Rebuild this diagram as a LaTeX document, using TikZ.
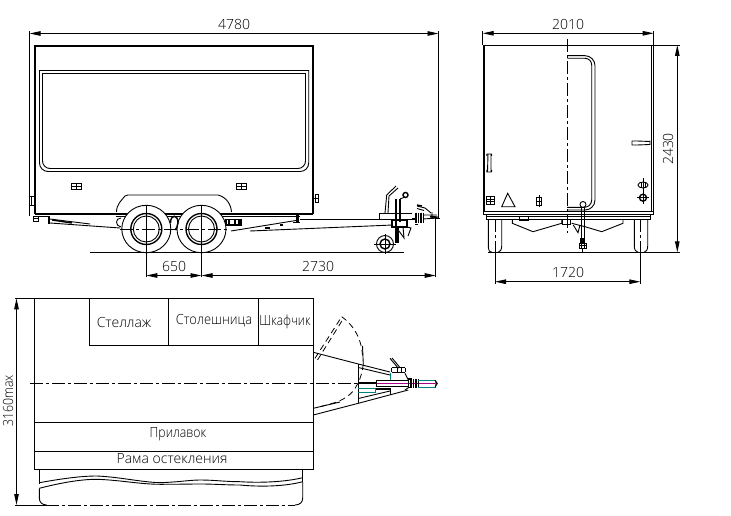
\documentclass[tikz,border=0pt]{standalone}
\usepackage{fontspec}
\setmainfont{Open Sans Light}
\usetikzlibrary{arrows.meta}
\definecolor{cadteal}{RGB}{0,128,128}
\definecolor{cadmag}{RGB}{170,0,140}
\tikzset{
 every path/.style={line width=0.9pt,line join=miter},
 heavy/.style={line width=2pt},
 mid/.style={line width=1.4pt},
 block/.style={line width=3pt},
 ext/.style={line width=0.9pt},
 dimboth/.style={line width=0.9pt,{Triangle[length=11pt,width=4.5pt]}-{Triangle[length=11pt,width=4.5pt]}},
 axis/.style={line width=0.8pt,dash pattern=on 13pt off 3pt on 3pt off 3pt},
 dashy/.style={line width=0.8pt,dash pattern=on 6pt off 4pt},
 lab/.style={inner sep=0pt,font=\fontsize{14}{14}\selectfont,text=black},
}
\newcommand{\latchbox}[2]{\draw (#1-5,#2-3) rectangle (#1+5,#2+3) (#1-5,#2)--(#1+5,#2) (#1,#2-3)--(#1,#2+3);}
\begin{document}
\begin{tikzpicture}[x=1pt,y=-1pt]
\useasboundingbox (0,0) rectangle (731,516);
\fill[white] (0,0) rectangle (731,516);

% ---- side view body
\draw[heavy] (35,214) -- (35,46) -- (313,46) -- (313,214);
\draw[heavy] (35,213.5) -- (313,213.5);
\draw (35,216.5)--(48,216.5);
\draw (39.5,70.5) -- (308.7,70.5) -- (308.7,163) arc[start angle=0,end angle=90,radius=8.5] -- (48,171.5) arc[start angle=90,end angle=180,radius=8.5] -- cycle;
\draw (42.5,73.5) -- (305.5,73.5) -- (305.5,161) arc[start angle=0,end angle=90,radius=7.5] -- (50,168.5) arc[start angle=90,end angle=180,radius=7.5] -- cycle;
\latchbox{76}{186}
\latchbox{241}{186}
\draw (29.5,196) rectangle (34,205) (31.5,196)--(31.5,205);
\draw (313,198)--(318,198) (315,194) rectangle (318,202);
\draw (33,216) rectangle (38,221) (33,218.5)--(38,218.5);
\draw (116.5,212) .. controls (116.5,204) and (122,200) .. (125,196) -- (128,195) -- (218,195) .. controls (226,197) and (231,204) .. (231.5,212);
\draw (116,216.5)--(300,216.5);

% wheels
\foreach \c/\nm in {146.3/wa,201.5/wb}{
 \draw[fill=white] (\c,229) ellipse[x radius=24.5,y radius=23.7];
 \draw[mid] (\c,229) circle (15.5pt);
 \draw (\c,229) circle (13pt);
}
\draw[axis] (120,229) -- (228,229);
\draw (121,218) .. controls (115,218) and (115,226) .. (121,227);
\draw[mid] (170.5,223) .. controls (170.5,214) and (178,214) .. (178,223) .. controls (178,226) and (176,229) .. (175,230);
\draw[mid] (226,219.5) rectangle (241,225);
\draw[block,line width=2.5pt] (229,219.5)--(229,225) (235,219.5)--(235,225) (239,219.5)--(239,225);

% front / rear frame
\draw[heavy,line width=2.5pt] (49,216)--(49,224);
\draw (50,219)--(90,224) (50,223)--(120,228);
\draw[mid] (52,220)--(72,223);
\draw (231,231)--(299,220) (250,231)--(393,225) ;
\draw[heavy] (265,228)--(270,228) (280,225)--(283,225);
\draw[heavy,line width=3pt] (297,215)--(297,222);
\draw (293,222)--(300,222);
\draw (300,219.5)--(393,219.5);

% jockey and coupling
\draw (396,186)--(386.7,195)--(385,213) (398,188)--(389,196)--(388,213);
\draw[mid] (379,213.5)--(412,213.5) (379,219.5)--(412,219.5);
\draw (379,213.5)--(379,219.5);
\draw[mid] (396,199)--(396,243) (400,199)--(400,222);
\draw (400,199)--(405,197);
\draw[mid] (405.5,195) circle (2.5pt);
\draw[heavy] (398,226)--(398,243);
\draw[mid] (392,220) rectangle (407,227);
\draw (403,227)--(404,238)--(399,231);
\draw (407,227)--(411,228)--(408,236);
\draw (385,244) circle (8.5pt);
\draw[mid] (385,244) circle (5pt);
\draw (374,244)--(396,244) (385,234)--(385,254);
\draw[line width=2.4pt] (412,219)--(415,219);
\foreach \q in {416,418.5,421,423.5}{\draw[mid] (\q,212.5)--(\q,223);}
\draw (423,215)--(437,215) (423,219)--(438,218) (432,212)--(432,218);
\draw[heavy] (430,216.5)--(437.5,217.5);
\draw (417,206)--(425,208)--(431,213) (417,208.5)--(424,210.5);
\draw[mid] (417,205)--(422,206);
\draw (415,224)--(418,224);

% ground and side dimensions
\draw (90,252.5)--(404,252.5);
\coordinate (dl1) at (29.5,33.5);
\coordinate (dl2) at (438.5,33.5);
\draw[ext] (29.5,31)--(29.5,216) (438.5,31)--(438.5,218);
\draw (436,218)--(440,218);
\draw[dimboth] (dl1)--(dl2);
\node[lab] (t4780) at (234,24) {4780};
\draw[ext] (146.3,205)--(146.3,277) (201.5,205)--(201.5,277) (435.7,218)--(435.7,277);
\coordinate (d1a) at (146.3,275.5);
\coordinate (d1b) at (201.5,275.5);
\coordinate (d1c) at (435.7,275.5);
\draw[dimboth] (d1a)--(d1b);
\draw[dimboth] (d1b)--(d1c);
\node[lab] (t650) at (174,266.5) {650};
\node[lab] (t2730) at (318,266.5) {2730};

% ---- rear view
\draw (483,45)--(680,45);
\draw (483,45)--(483,214)--(653.7,214)--(653.7,45);
\draw (484.8,45)--(484.8,212) (651.4,45)--(651.4,212) (483,211.7)--(653.7,211.7);
\draw (486.7,214)--(486.7,219.3)--(650,219.3)--(650,214) (486.7,216)--(650,216);
\draw (488.3,219)--(488.3,248) .. controls (488.3,251) and (490,252) .. (492,252.3);
\draw (501.7,219)--(501.7,246) .. controls (501.7,250) and (500,252) .. (498,252.3);
\draw (634.3,219)--(634.3,246) .. controls (634.3,250) and (636,252) .. (638,252.3);
\draw (647.7,219)--(647.7,246) .. controls (647.7,250) and (646,252) .. (644,252.3);
\draw (488,252.3)--(680,252.3);
\draw[axis] (495,219)--(495,252);
\draw[axis] (640.3,219)--(640.3,252);
\draw (495,252)--(495,284) (640.3,252)--(640.3,284);
\draw[axis] (567.3,39)--(567.3,233);
\draw (567.3,55.7)--(585,55.7) arc[start angle=-90,end angle=0,radius=10] -- (595,200) arc[start angle=0,end angle=90,radius=10] -- (567.3,210);
\draw (567.3,58.3)--(585,58.3) arc[start angle=-90,end angle=0,radius=6.7] -- (591.7,200) arc[start angle=0,end angle=90,radius=7.3] -- (567.3,207.3);
\draw[mid] (567.3,207.5)--(581,207.5);
% small details
\draw (486.7,154)--(491.7,154) (488,154)--(487.5,172) (491,154)--(491,172) (486.7,172)--(491.7,172) (486.7,154)--(486.7,156) (491.7,154)--(491.7,156) (486.7,172)--(486.7,170) (491.7,172)--(491.7,170);
\draw (632,141)--(632,145)--(637,145) (632,141)--(637,141)--(650,141.5) (637,145)--(650,144.5) (650,140.7)--(650,145);
\draw (486.7,196.7) rectangle (494.3,204) (486.7,199.2)--(494.3,199.2) (486.7,201.6)--(494.3,201.6) (490.5,196.7)--(490.5,204);
\draw (501.7,206.7)--(515,206.7)--(507.7,193.3)--cycle;
\draw (536.7,197) rectangle (541.5,205) (536.7,201)--(541.5,201) (539,195)--(539,207);
\draw (643,185) ellipse[x radius=5,y radius=3];
\draw (643,178)--(643,192) (641,182.5)--(641,187.5) (645,182.5)--(645,187.5);
\draw[mid] (643,197.7) circle (3.5pt);
\draw (643,190)--(643,204) (637,197.7)--(649,197.7);
\draw (512.3,219.3)--(512.3,223.3)--(533,231.7)--(561.7,223.3)--(561.7,219.3);
\draw (623,219.3)--(623,223.3)--(601.7,231.7)--(585,226.7)--(571.7,223.3);
\draw (573.3,225)--(578,232.7)--(580,225);
\draw[mid] (519.3,216.7) rectangle (528.3,220.7);
\draw (562.7,219.3)--(562.7,224)--(570.7,224)--(570.7,219.3);
\draw[mid] (581.7,207)--(581.7,239) (584.3,207)--(584.3,239);
\draw (583,204.5) circle (3pt);
\draw[line width=4.5pt] (582.7,238)--(582.7,243);
\draw (579.5,243) rectangle (586,248) (579.5,245.5)--(586,245.5) (581,243)--(581,248) (584.5,243)--(584.5,248);
\draw (582.7,248)--(582.7,253);
% rear dimensions
\draw (482.7,31)--(482.7,45) (653.7,31)--(653.7,45);
\coordinate (d2a) at (482.7,33.3);
\coordinate (d2b) at (653.7,33.3);
\draw[dimboth] (d2a)--(d2b);
\node[lab] (t2010) at (568,24) {2010};
\coordinate (d3a) at (677.3,45);
\coordinate (d3b) at (677.3,252.3);
\draw[dimboth] (d3a)--(d3b);
\node[lab,rotate=90] (t2430) at (668,149) {2430};
\coordinate (d4a) at (495,281.7);
\coordinate (d4b) at (640.3,281.7);
\draw[dimboth] (d4a)--(d4b);
\node[lab] (t1720) at (568,272) {1720};

% ---- plan view
\draw (15,298.3)--(313.3,298.3);
\draw (34.7,298.3)--(34.7,469.3)--(313.3,469.3)--(313.3,298.3);
\draw (34.7,422.3)--(313.3,422.3) (34.7,451.3)--(313.3,451.3);
\draw (89.3,298.3)--(89.3,345)--(313.3,345) (168.3,298.3)--(168.3,345) (258.3,298.3)--(258.3,345);
\draw[axis] (30,383.3)--(437,383.3);
\coordinate (d5a) at (16.5,298.3);
\coordinate (d5b) at (16.5,505);
\draw[dimboth] (d5a)--(d5b);
\draw (15,505)--(46,505);
\draw[dash pattern=on 13pt off 3pt on 3pt off 3pt,line width=0.8pt] (46,505)--(295,505);
\node[lab,rotate=90] (t3160) at (8,401) {\scalebox{.88}[1]{3160max}};
\node[lab] (tshelf) at (124,322) {Стеллаж};
\node[lab] (ttop) at (214,321) {\scalebox{.92}[1]{Столешница}};
\node[lab] (tcab) at (285,322) {\scalebox{.85}[1]{Шкафчик}};
\node[lab] (tcounter) at (178,434) {\scalebox{.88}[1]{Прилавок}};
\node[lab] (tframe) at (172,459) {Рама остекления};
% awning
\draw (39.3,469.3)--(39.3,484);
\draw (302.7,469.3)--(302.7,481.7);
\draw (39.3,482.7) .. controls (60,479) and (80,476) .. (96.7,476) .. controls (120,477) and (140,482) .. (160,482.7) .. controls (180,482) and (190,480) .. (200,480) .. controls (215,480) and (225,481.7) .. (240,481.7) .. controls (260,483) and (285,482) .. (302.7,477.7);
\draw (39.3,488.3) .. controls (60,483) and (80,479.3) .. (96.7,479.3) .. controls (120,480) and (140,484.3) .. (160,484.3) .. controls (180,484.3) and (190,484) .. (200,484) .. controls (215,484) and (225,485) .. (240,485) .. controls (260,487) and (285,486.5) .. (302.7,481.7);
\draw (39.3,488.3)--(39.3,498) .. controls (39.3,502) and (42,505) .. (46.7,505);
\draw (302.7,481.7)--(302.7,498) .. controls (302.7,502) and (300,505) .. (295,505);
% drawbar
\draw (313.3,352.3)--(358.3,364)--(390,372);
\draw (358.3,367.5)--(390,375);
\draw (313.3,415)--(358.3,403.3)--(408.3,390);
\draw (313.3,408.3)--(340,402);
\draw (358.3,398.5)--(390,391);
\draw[mid] (358.3,364)--(358.3,403.3);
\draw[dashy] (315,358.3)--(341.7,316.7);
\draw[dashy] (317.5,360)--(342.5,320);
\draw[dashy] (341.7,316.7) .. controls (352,324) and (361,336) .. (362.5,355);
\draw (362.5,346)--(363.3,364);
\draw[dashy] (363.3,364) .. controls (362,378) and (355,392) .. (346.7,396.7) .. controls (340,402) and (330,404) .. (320,406.7);
\draw (376.7,380) rectangle (408.3,386.7);
\draw[line width=2pt] (358.3,383.3)--(376.7,383.3);
\draw[cadmag] (376.7,383.3)--(435,383.3);
\draw[line width=1.2pt] (408.3,379) rectangle (411,387.7) (413.5,379)--(413.5,387.7) (416,379)--(416,387.7) (418.3,379)--(418.3,387.7);
\draw[cadteal] (418.3,380)--(435,380)--(435,387.3)--(418.3,387.3);
\draw (435,380)--(437.3,383.5)--(435,387.3);
\draw[line width=2pt] (375,389)--(390,389);
\draw[cadteal] (358.3,392.3)--(375,392.3)--(375,388.3)--(358.3,388.3);
\draw (390,388)--(390,395);
\draw (390,358.3)--(398.3,368.3) (392,358)--(399.5,367);
\draw[mid] (391.7,367.7)--(405,367.7);
\draw[mid] (391.7,372.3)--(405,372.3);
\draw (391.7,367.7)--(391.7,372.3) (397,367.7)--(397,372.3) (401,367.7)--(401,372.3) (405,367.7)--(405,372.3);
\draw[cadteal] (390.7,373)--(390.7,380);
\draw (405,373.3)--(408.3,380);
\draw (408.3,387.7)--(405,390);
\end{tikzpicture}
\end{document}
